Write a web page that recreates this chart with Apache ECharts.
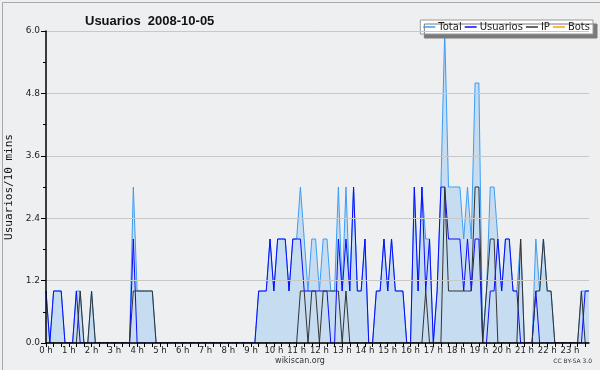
<!DOCTYPE html>
<html><head><meta charset="utf-8">
<script src="https://cdn.jsdelivr.net/npm/echarts@6/dist/echarts.min.js"></script>
<style>html,body{margin:0;padding:0;background:#eeeff1}#c{width:600px;height:370px}</style>
</head><body><div id="c"></div>
<script>
// tick labels (one per hour)
const hourLabels = ['0 h','1 h','2 h','3 h','4 h','5 h','6 h','7 h','8 h','9 h','10 h','11 h','12 h','13 h','14 h','15 h','16 h','17 h','18 h','19 h','20 h','21 h','22 h','23 h'];
// 10-minute slots
const slots = [];
for (let h = 0; h < 24; h++) for (let m = 0; m < 60; m += 10) slots.push(h + ':' + (m < 10 ? '0' : '') + m);

const total = [
 1,0,1,1,1,0,  0,0,1,1,0,0,  1,0,0,0,0,0,  0,0,0,0,0,3,
 1,1,1,1,1,0,  0,0,0,0,0,0,  0,0,0,0,0,0,  0,0,0,0,0,0,
 0,0,0,0,0,0,  0,0,1,1,1,2,  1,2,2,2,1,2,  2,3,2,1,2,2,
 1,2,2,1,1,3,  1,3,1,3,1,1,  2,0,0,1,1,2,  1,2,1,1,1,0,
 0,3,1,3,2,2,  0,1,3,6,3,3,  3,3,2,3,2,5,  5,0,1,3,3,2,
 1,2,2,1,1,2,  0,0,0,2,1,2,  1,1,0,0,0,0,  0,0,0,1,1,1
];
const usuarios = [
 1,0,1,1,1,0,  0,0,1,0,0,0,  0,0,0,0,0,0,  0,0,0,0,0,2,
 0,0,0,0,0,0,  0,0,0,0,0,0,  0,0,0,0,0,0,  0,0,0,0,0,0,
 0,0,0,0,0,0,  0,0,1,1,1,2,  1,2,2,2,1,2,  2,2,1,1,1,1,
 1,1,1,0,0,2,  1,2,1,3,1,1,  2,0,0,1,1,2,  1,2,1,1,1,0,
 0,3,1,3,1,2,  0,1,3,3,2,2,  2,2,1,2,1,2,  2,0,0,1,1,2,
 1,2,2,1,1,0,  0,0,0,1,0,0,  0,0,0,0,0,0,  0,0,0,0,1,1
];
const ip = [
 0,0,0,0,0,0,  0,0,0,1,0,0,  1,0,0,0,0,0,  0,0,0,0,0,1,
 1,1,1,1,1,0,  0,0,0,0,0,0,  0,0,0,0,0,0,  0,0,0,0,0,0,
 0,0,0,0,0,0,  0,0,0,0,0,0,  0,0,0,0,0,0,  0,1,1,0,1,1,
 0,1,1,1,1,1,  0,1,0,0,0,0,  0,0,0,0,0,0,  0,0,0,0,0,0,
 0,0,0,0,1,0,  0,0,0,3,1,1,  1,1,1,1,1,3,  3,0,1,2,2,0,
 0,0,0,0,0,2,  0,0,0,1,1,2,  1,1,0,0,0,0,  0,0,0,1,0,0
];
const bots = [
 0,0,0,0,0,0,  0,0,0,0,0,0,  0,0,0,0,0,0,  0,0,0,0,0,0,
 0,0,0,0,0,0,  0,0,0,0,0,0,  0,0,0,0,0,0,  0,0,0,0,0,0,
 0,0,0,0,0,0,  0,0,0,0,0,0,  0,0,0,0,0,0,  0,0,0,0,0,0,
 0,0,0,0,0,0,  0,0,0,0,0,0,  0,0,0,0,0,0,  0,0,0,0,0,0,
 0,0,0,0,0,0,  0,0,0,0,0,0,  0,0,0,0,0,0,  0,0,0,0,0,0,
 0,0,0,0,0,0,  0,0,0,0,0,0,  0,0,0,0,0,0,  0,0,0,0,0,0
];

const chart = echarts.init(document.getElementById('c'), null, {renderer: 'canvas'});
const txt = '#222';
chart.setOption({
  animation: false,
  backgroundColor: '#eeeff1',
  textStyle: {fontFamily: 'DejaVu Sans'},
  title: {
    text: 'Usuarios  2008-10-05', left: 80, top: 10,
    textStyle: {fontSize: 13, fontWeight: 'bold', color: '#111', fontFamily: 'Liberation Sans'}
  },
  legend: {
    right: 7, top: 20, padding: [2, 3, 2, 3], itemGap: 3,
    itemWidth: 12, itemHeight: 1.5, icon: 'rect',
    backgroundColor: '#ffffff', borderColor: '#999', borderWidth: 1,
    shadowColor: '#7a7a7a', shadowOffsetX: 4, shadowOffsetY: 4, shadowBlur: 0,
    textStyle: {fontSize: 10, color: '#222', padding: [0, 0, 0, -2]},
    data: ['Total', 'Usuarios', 'IP', 'Bots']
  },
  grid: {left: 46, right: 11, top: 31, bottom: 27, containLabel: false, outerBoundsMode: 'none'},
  xAxis: {
    type: 'category', data: slots, boundaryGap: false, z: 10,
    axisLine: {lineStyle: {color: '#000', width: 1.5}},
    axisTick: {show: true, interval: 1, length: 4, lineStyle: {color: '#000'}},
    axisLabel: {
      interval: 5, margin: 3, fontSize: 8.5, color: txt,
      formatter: (v, i) => hourLabels[Math.floor(i / 6)]
    },
    splitLine: {show: false}
  },
  yAxis: {
    type: 'value', min: 0, max: 6, interval: 1.2, z: 10,
    name: 'Usuarios/10 mins', nameLocation: 'middle', nameGap: 30, nameRotate: 90,
    nameTextStyle: {fontSize: 11, color: '#111', fontFamily: 'DejaVu Sans Mono'},
    axisLine: {show: true, lineStyle: {color: '#000', width: 1.5}},
    axisTick: {show: true, length: 5, lineStyle: {color: '#000'}},
    minorTick: {show: true, splitNumber: 2, length: 3, lineStyle: {color: '#000'}},
    axisLabel: {fontSize: 9, color: txt, margin: 6, formatter: v => v.toFixed(1)},
    splitLine: {show: true, lineStyle: {color: '#c8c8c8', width: 1}}
  },
  series: [
    {name: 'Total', type: 'line', data: total, symbol: 'none', z: 2,
     lineStyle: {color: '#3d9cf5', width: 1}, itemStyle: {color: '#3d9cf5'},
     areaStyle: {color: '#c6dcf0', opacity: 1}},
    {name: 'Usuarios', type: 'line', data: usuarios, symbol: 'none', z: 3,
     lineStyle: {color: '#0a0aff', width: 1}, itemStyle: {color: '#0a0aff'}},
    {name: 'IP', type: 'line', data: ip, symbol: 'none', z: 4,
     lineStyle: {color: '#333333', width: 1}, itemStyle: {color: '#333333'}},
    {name: 'Bots', type: 'line', data: bots, symbol: 'none', z: 1,
     lineStyle: {color: '#ffa000', width: 1}, itemStyle: {color: '#ffa000'}}
  ],
  graphic: [
    {type: 'rect', left: 0, top: 0, shape: {width: 599, height: 369}, silent: true,
     style: {fill: 'none', stroke: '#a8a8a8', lineWidth: 1}},
    {type: 'text', left: 'center', top: 357, style: {text: 'wikiscan.org', fontSize: 8, fill: '#333', fontFamily: 'DejaVu Sans'}},
    {type: 'text', right: 8, top: 358, style: {text: 'CC BY-SA 3.0', fontSize: 6, fill: '#333', fontFamily: 'DejaVu Sans'}}
  ]
});
</script>
</body></html>
